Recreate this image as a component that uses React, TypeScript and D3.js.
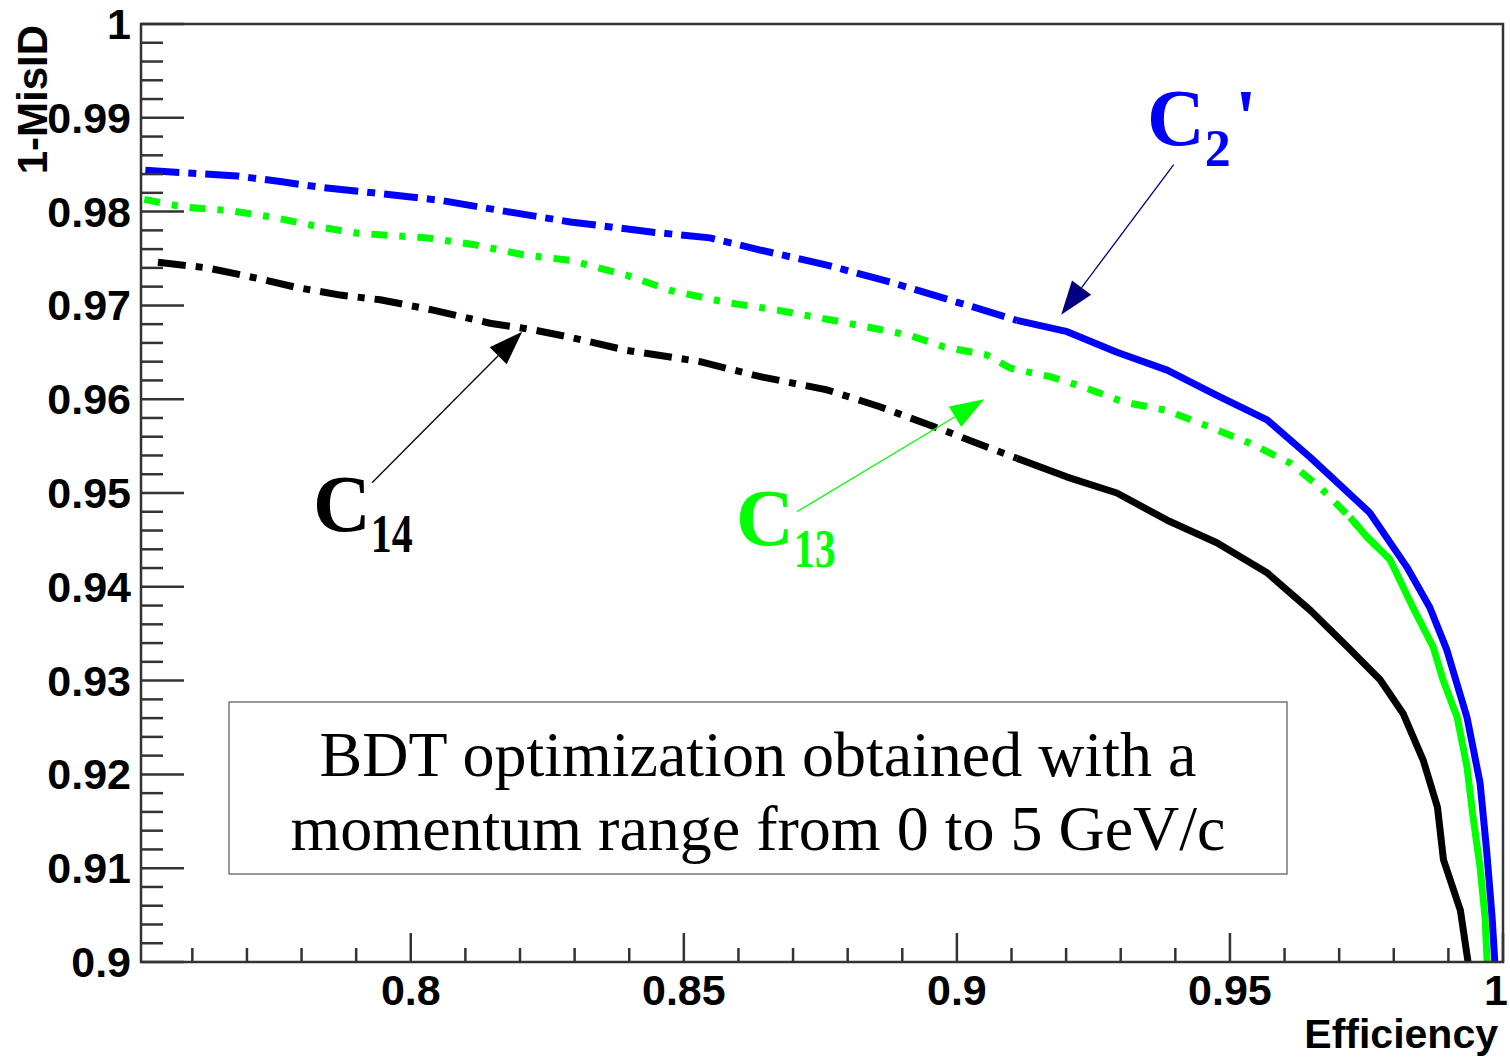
import React from 'react';
import * as d3 from 'd3';

// efficiency values / 1-MisID values
const blueEff = [0.7514, 0.7682, 0.7761, 0.7834, 0.7931, 0.8054, 0.8176, 0.8292, 0.8444, 0.8548, 0.864, 0.8762, 0.8883, 0.9037, 0.911, 0.9202, 0.9293, 0.9385, 0.9476, 0.9568, 0.9647, 0.9756, 0.9824, 0.9866, 0.9897, 0.9934, 0.9958, 0.997, 0.998, 0.9985];
const blueVal = [0.9844, 0.9838, 0.9832, 0.9826, 0.982, 0.9812, 0.98, 0.9789, 0.9778, 0.9772, 0.9759, 0.9743, 0.9724, 0.9697, 0.9684, 0.9672, 0.965, 0.9631, 0.9604, 0.9578, 0.9538, 0.9479, 0.9421, 0.9378, 0.9333, 0.9261, 0.9191, 0.9119, 0.9048, 0.9];

const greenEff = [0.7512, 0.7583, 0.7669, 0.7748, 0.7839, 0.7902, 0.803, 0.8114, 0.8206, 0.8292, 0.8396, 0.8475, 0.8579, 0.8671, 0.8792, 0.8914, 0.8975, 0.9055, 0.9098, 0.9171, 0.9231, 0.9305, 0.9385, 0.9464, 0.9537, 0.961, 0.9665, 0.972, 0.9751, 0.9793, 0.9835, 0.9872, 0.989, 0.9916, 0.9934, 0.9945, 0.9958, 0.9967, 0.9971];
const greenVal = [0.9813, 0.9805, 0.9801, 0.9794, 0.9783, 0.9777, 0.9772, 0.9765, 0.9754, 0.9748, 0.9732, 0.9716, 0.9703, 0.9695, 0.9682, 0.9668, 0.9656, 0.9647, 0.9633, 0.9624, 0.9613, 0.9597, 0.9588, 0.957, 0.9553, 0.9532, 0.9506, 0.9474, 0.9453, 0.9429, 0.9378, 0.9336, 0.9301, 0.9261, 0.9208, 0.9155, 0.9101, 0.9048, 0.9];

const blackEff = [0.7537, 0.7627, 0.7718, 0.7792, 0.7871, 0.7944, 0.8041, 0.8145, 0.8224, 0.8292, 0.8396, 0.853, 0.864, 0.8762, 0.8859, 0.8975, 0.9055, 0.911, 0.9202, 0.9293, 0.9385, 0.9476, 0.9568, 0.9647, 0.9715, 0.9775, 0.9817, 0.9854, 0.988, 0.9891, 0.9922, 0.9936];
const blackVal = [0.9746, 0.974, 0.9729, 0.9719, 0.9711, 0.9706, 0.9695, 0.9681, 0.9674, 0.9666, 0.9652, 0.964, 0.9624, 0.961, 0.9592, 0.9567, 0.9549, 0.9537, 0.9517, 0.95, 0.9471, 0.9447, 0.9415, 0.9375, 0.9336, 0.9301, 0.9265, 0.9215, 0.9165, 0.9109, 0.9055, 0.9];

const xMajorTicks = [0.8, 0.85, 0.9, 0.95, 1];
const xTickLabels = ['0.8', '0.85', '0.9', '0.95', '1'];
const yMajorTicks = [0.9, 0.91, 0.92, 0.93, 0.94, 0.95, 0.96, 0.97, 0.98, 0.99, 1];
const yTickLabels = ['0.9', '0.91', '0.92', '0.93', '0.94', '0.95', '0.96', '0.97', '0.98', '0.99', '1'];

// annotation arrows: [startEff, startVal, tipEff, tipVal]
const arrowC14 = [0.7929, 0.9511, 0.8204, 0.9672];
const arrowC13 = [0.8707, 0.948, 0.905, 0.96];
const arrowC2 = [0.9397, 0.985, 0.9191, 0.969];

const boxLines = ['BDT optimization obtained with a', 'momentum range from 0 to 5 GeV/c'];

const W = 1510;
const H = 1061;
const PLOT = { LEFT: 141, RIGHT: 1503, TOP: 24, BOTTOM: 962 };

const x = d3.scaleLinear().domain([0.7506, 1.0]).range([PLOT.LEFT, PLOT.RIGHT]);
const y = d3.scaleLinear().domain([0.9, 1.0]).range([PLOT.BOTTOM, PLOT.TOP]);

const line = d3.line<[number, number]>()
  .x(d => x(d[0]))
  .y(d => y(d[1]));

const zip = (a: number[], b: number[]) => a.map((v, i) => [v, b[i]] as [number, number]);

const series = [
  { pts: zip(greenEff, greenVal), color: '#00ff00', dash: '16 12 6 12', solidFrom: 0.976 },
  { pts: zip(blackEff, blackVal), color: '#000000', dash: '28 10 7 10', solidFrom: 0.912 },
  { pts: zip(blueEff, blueVal), color: '#0000ff', dash: '34 9 8 9', solidFrom: 0.912 },
];

const Arrow = ({ a, color, head }: { a: number[]; color: string; head: string }) => {
  const x0 = x(a[0]), y0 = y(a[1]), x1 = x(a[2]), y1 = y(a[3]);
  const ang = Math.atan2(y1 - y0, x1 - x0);
  const len = 34, half = 12;
  const bx = x1 - len * Math.cos(ang), by = y1 - len * Math.sin(ang);
  const px = -Math.sin(ang) * half, py = Math.cos(ang) * half;
  return (
    <g>
      <line x1={x0} y1={y0} x2={bx} y2={by} stroke={color} strokeWidth={1.3} />
      <polygon points={`${x1},${y1} ${bx + px},${by + py} ${bx - px},${by - py}`} fill={head} />
    </g>
  );
};

const App = () => {
  const xMinor = d3.range(0.76, 1.0001, 0.01).filter(v => !xMajorTicks.some(t => Math.abs(t - v) < 1e-6));
  const yMinor = d3.range(0.9, 1.0001, 0.002).filter(v => !yMajorTicks.some(t => Math.abs(t - v) < 1e-6));
  const sans = 'Liberation Sans, Arial, sans-serif';
  const serif = 'Liberation Serif, Times New Roman, serif';

  return (
    <svg width={W} height={H} style={{ position: 'absolute', left: 0, top: 0, background: '#fff' }}>
      <rect x={0} y={0} width={W} height={H} fill="#fff" />

      {/* curves */}
      {series.map((s, i) => {
        const dashed = s.pts.filter(p => p[0] <= s.solidFrom + 0.004);
        const solid = s.pts.filter(p => p[0] >= s.solidFrom - 0.004);
        return (
          <g key={i} fill="none" stroke={s.color} strokeWidth={7}>
            <path d={line(dashed) || ''} strokeDasharray={s.dash} />
            <path d={line(solid) || ''} strokeLinejoin="round" />
          </g>
        );
      })}

      {/* frame */}
      <rect x={PLOT.LEFT} y={PLOT.TOP} width={PLOT.RIGHT - PLOT.LEFT} height={PLOT.BOTTOM - PLOT.TOP}
        fill="none" stroke="#333" strokeWidth={2.5} />

      {/* y ticks */}
      {yMajorTicks.map(t => (
        <line key={'ym' + t} x1={PLOT.LEFT} x2={PLOT.LEFT + 43} y1={y(t)} y2={y(t)} stroke="#333" strokeWidth={2.5} />
      ))}
      {yMinor.map(t => (
        <line key={'yn' + t} x1={PLOT.LEFT} x2={PLOT.LEFT + 22} y1={y(t)} y2={y(t)} stroke="#333" strokeWidth={2.5} />
      ))}
      {yMajorTicks.map((t, i) => (
        <text key={'yl' + t} x={131} y={y(t) + 15} textAnchor="end" fontFamily={sans} fontWeight="bold" fontSize={43} fill="#000">
          {yTickLabels[i]}
        </text>
      ))}

      {/* x ticks */}
      {xMajorTicks.map(t => (
        <line key={'xm' + t} x1={x(t)} x2={x(t)} y1={PLOT.BOTTOM} y2={PLOT.BOTTOM - 29} stroke="#333" strokeWidth={2.5} />
      ))}
      {xMinor.map(t => (
        <line key={'xn' + t} x1={x(t)} x2={x(t)} y1={PLOT.BOTTOM} y2={PLOT.BOTTOM - 14} stroke="#333" strokeWidth={2.5} />
      ))}
      {xMajorTicks.map((t, i) => (
        <text key={'xl' + t} x={Math.min(x(t), 1496)} y={1005} textAnchor="middle" fontFamily={sans} fontWeight="bold" fontSize={43} fill="#000">
          {xTickLabels[i]}
        </text>
      ))}

      {/* axis titles */}
      <text x={1498} y={1048} textAnchor="end" fontFamily={sans} fontWeight="bold" fontSize={41} fill="#000">Efficiency</text>
      <text transform="translate(47,25) rotate(-90)" textAnchor="end" fontFamily={sans} fontWeight="bold" fontSize={42} fill="#000">1-MisID</text>

      {/* text box */}
      <rect x={229} y={702} width={1058} height={172} fill="#fff" stroke="#555" strokeWidth={1.2} />
      {boxLines.map((l, i) => (
        <text key={l} x={758} y={776 + i * 74} textAnchor="middle" fontFamily={serif} fontSize={64} fill="#000">{l}</text>
      ))}

      {/* arrows */}
      <Arrow a={arrowC14} color="#000" head="#000" />
      <Arrow a={arrowC13} color="#00ff00" head="#00ff00" />
      <Arrow a={arrowC2} color="#000080" head="#000080" />

      {/* curve labels */}
      <text x={313} y={531} fontFamily={serif} fontWeight="bold" fontSize={80} fill="#000">
        C<tspan fontSize={54} dy={21} textLength={42} lengthAdjust="spacingAndGlyphs">14</tspan>
      </text>
      <text x={736} y={545} fontFamily={serif} fontWeight="bold" fontSize={80} fill="#00ff00">
        C<tspan fontSize={54} dy={22} textLength={42} lengthAdjust="spacingAndGlyphs">13</tspan>
      </text>
      <text x={1147} y={145} fontFamily={serif} fontWeight="bold" fontSize={80} fill="#0000ff">
        C<tspan fontSize={52} dy={21}>2</tspan><tspan dy={-21} dx={4}>'</tspan>
      </text>
    </svg>
  );
};

export default App;
